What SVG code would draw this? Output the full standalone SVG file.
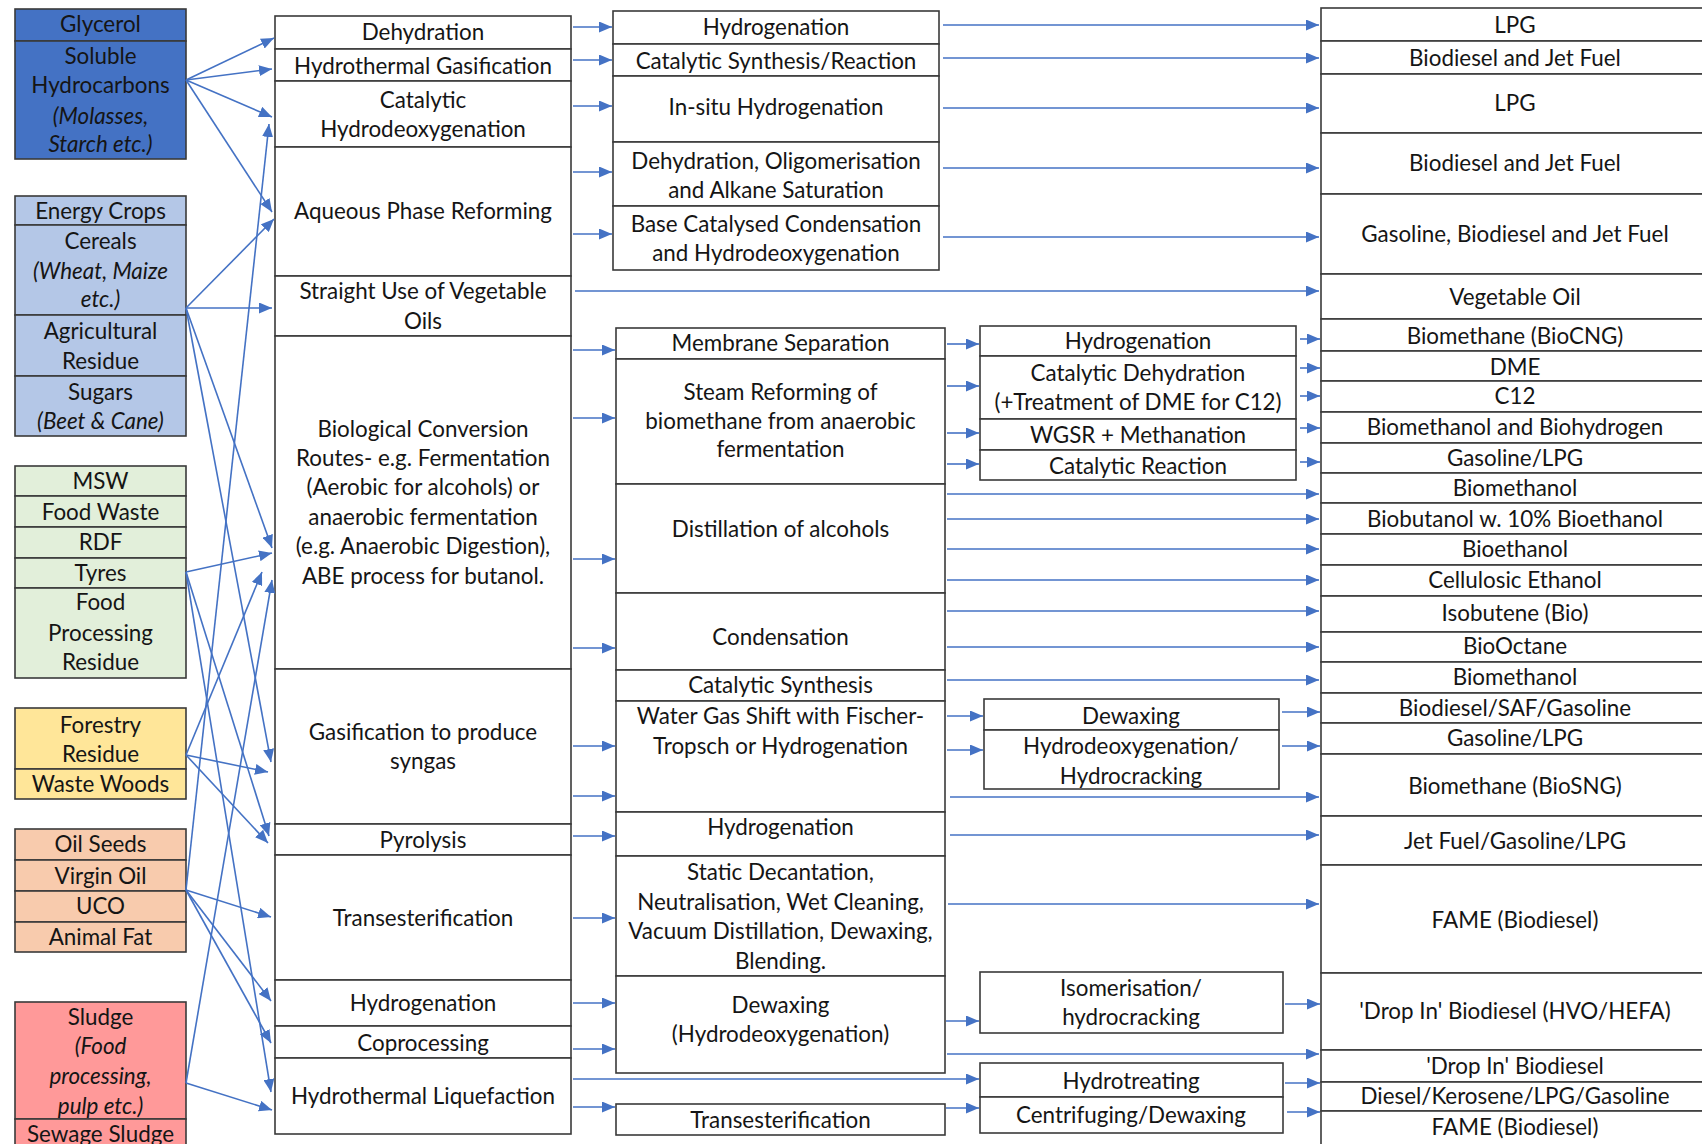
<svg xmlns="http://www.w3.org/2000/svg" width="1702" height="1144" viewBox="0 0 1702 1144">
<defs>
<marker id="ah" markerWidth="13" markerHeight="11" refX="13" refY="5.5" orient="auto" markerUnits="userSpaceOnUse"><path d="M0,0 L13,5.5 L0,11 z" fill="#4472C4"/></marker>
</defs>
<style>
text{font-family:Lato,"Liberation Sans",sans-serif;font-size:22.4px;fill:#151515;text-anchor:middle}
.it{font-style:italic}
rect{stroke:#3a3a3a;stroke-width:1.6}
.w{fill:#fff}
.db{fill:#4472C4}
.lb{fill:#B4C7E7}
.gr{fill:#E2EFDA}
.ye{fill:#FFE699}
.or{fill:#F8CBAD}
.rd{fill:#FF9999}
#connectors line{stroke:#4472C4;stroke-width:1.6;marker-end:url(#ah)}
</style>
<rect x="0" y="0" width="1702" height="1144" fill="#fff" style="stroke:none"/>

<g id="src-glycerol">
<rect class="db" x="15" y="9" width="171" height="32"/><text x="100.5" y="32">Glycerol</text>
<rect class="db" x="15" y="41" width="171" height="118"/>
<text x="100.5" y="64">Soluble</text><text x="100.5" y="93">Hydrocarbons</text>
<text class="it" x="100.5" y="124">(Molasses,</text><text class="it" x="100.5" y="152">Starch etc.)</text>
</g>
<g id="src-crops">
<rect class="lb" x="15" y="196" width="171" height="29"/><text x="100.5" y="219">Energy Crops</text>
<rect class="lb" x="15" y="225" width="171" height="90"/><text x="100.5" y="249">Cereals</text>
<text class="it" x="100.5" y="279">(Wheat, Maize</text><text class="it" x="100.5" y="307">etc.)</text>
<rect class="lb" x="15" y="315" width="171" height="61"/><text x="100.5" y="339">Agricultural</text><text x="100.5" y="369">Residue</text>
<rect class="lb" x="15" y="376" width="171" height="60"/><text x="100.5" y="400">Sugars</text><text class="it" x="100.5" y="429">(Beet &amp; Cane)</text>
</g>
<g id="src-waste">
<rect class="gr" x="15" y="466" width="171" height="30"/><text x="100.5" y="489">MSW</text>
<rect class="gr" x="15" y="496" width="171" height="31"/><text x="100.5" y="520">Food Waste</text>
<rect class="gr" x="15" y="527" width="171" height="31"/><text x="100.5" y="550">RDF</text>
<rect class="gr" x="15" y="558" width="171" height="30"/><text x="100.5" y="581">Tyres</text>
<rect class="gr" x="15" y="588" width="171" height="90"/><text x="100.5" y="610">Food</text><text x="100.5" y="641">Processing</text><text x="100.5" y="670">Residue</text>
</g>
<g id="src-wood">
<rect class="ye" x="15" y="708" width="171" height="61"/><text x="100.5" y="733">Forestry</text><text x="100.5" y="762">Residue</text>
<rect class="ye" x="15" y="769" width="171" height="30"/><text x="100.5" y="792">Waste Woods</text>
</g>
<g id="src-oils">
<rect class="or" x="15" y="829" width="171" height="31"/><text x="100.5" y="852">Oil Seeds</text>
<rect class="or" x="15" y="860" width="171" height="31"/><text x="100.5" y="884">Virgin Oil</text>
<rect class="or" x="15" y="891" width="171" height="31"/><text x="100.5" y="914">UCO</text>
<rect class="or" x="15" y="922" width="171" height="30"/><text x="100.5" y="945">Animal Fat</text>
</g>
<g id="src-sludge">
<rect class="rd" x="15" y="1002" width="171" height="117"/><text x="100.5" y="1025">Sludge</text>
<text class="it" x="100.5" y="1054">(Food</text><text class="it" x="100.5" y="1084">processing,</text><text class="it" x="100.5" y="1114">pulp etc.)</text>
<rect class="rd" x="15" y="1119" width="171" height="40"/><text x="100.5" y="1142">Sewage Sludge</text>
</g>

<g id="conv1">
<rect class="w" x="275" y="16" width="296" height="33"/><text x="423" y="40">Dehydration</text>
<rect class="w" x="275" y="49" width="296" height="32"/><text x="423" y="74">Hydrothermal Gasification</text>
<rect class="w" x="275" y="81" width="296" height="66"/><text x="423" y="108">Catalytic</text><text x="423" y="137">Hydrodeoxygenation</text>
<rect class="w" x="275" y="147" width="296" height="129"/><text x="423" y="219">Aqueous Phase Reforming</text>
<rect class="w" x="275" y="276" width="296" height="60"/><text x="423" y="299">Straight Use of Vegetable</text><text x="423" y="329">Oils</text>
<rect class="w" x="275" y="336" width="296" height="333"/>
<text x="423" y="437">Biological Conversion</text><text x="423" y="466">Routes- e.g. Fermentation</text><text x="423" y="495">(Aerobic for alcohols) or</text><text x="423" y="525">anaerobic fermentation</text><text x="423" y="554">(e.g. Anaerobic Digestion),</text><text x="423" y="584">ABE process for butanol.</text>
<rect class="w" x="275" y="669" width="296" height="155"/><text x="423" y="740">Gasification to produce</text><text x="423" y="769">syngas</text>
<rect class="w" x="275" y="824" width="296" height="31"/><text x="423" y="848">Pyrolysis</text>
<rect class="w" x="275" y="855" width="296" height="125"/><text x="423" y="926">Transesterification</text>
<rect class="w" x="275" y="980" width="296" height="46"/><text x="423" y="1011">Hydrogenation</text>
<rect class="w" x="275" y="1026" width="296" height="32"/><text x="423" y="1051">Coprocessing</text>
<rect class="w" x="275" y="1058" width="296" height="76"/><text x="423" y="1104">Hydrothermal Liquefaction</text>
</g>

<g id="conv2-upper">
<rect class="w" x="613" y="11" width="326" height="33"/><text x="776" y="35">Hydrogenation</text>
<rect class="w" x="613" y="44" width="326" height="32"/><text x="776" y="69">Catalytic Synthesis/Reaction</text>
<rect class="w" x="613" y="76" width="326" height="66"/><text x="776" y="115">In-situ Hydrogenation</text>
<rect class="w" x="613" y="142" width="326" height="64"/><text x="776" y="169">Dehydration, Oligomerisation</text><text x="776" y="198">and Alkane Saturation</text>
<rect class="w" x="613" y="206" width="326" height="64"/><text x="776" y="232">Base Catalysed Condensation</text><text x="776" y="261">and Hydrodeoxygenation</text>
</g>

<g id="conv2-lower">
<rect class="w" x="616" y="328" width="329" height="31"/><text x="780.5" y="351">Membrane Separation</text>
<rect class="w" x="616" y="359" width="329" height="125"/><text x="780.5" y="400">Steam Reforming of</text><text x="780.5" y="429">biomethane from anaerobic</text><text x="780.5" y="457">fermentation</text>
<rect class="w" x="616" y="484" width="329" height="109"/><text x="780.5" y="537">Distillation of alcohols</text>
<rect class="w" x="616" y="593" width="329" height="77"/><text x="780.5" y="645">Condensation</text>
<rect class="w" x="616" y="670" width="329" height="31"/><text x="780.5" y="693">Catalytic Synthesis</text>
<rect class="w" x="616" y="701" width="329" height="111"/><text x="780.5" y="724">Water Gas Shift with Fischer-</text><text x="780.5" y="754">Tropsch or Hydrogenation</text>
<rect class="w" x="616" y="812" width="329" height="44"/><text x="780.5" y="835">Hydrogenation</text>
<rect class="w" x="616" y="856" width="329" height="120"/><text x="780.5" y="880">Static Decantation,</text><text x="780.5" y="910">Neutralisation, Wet Cleaning,</text><text x="780.5" y="939">Vacuum Distillation, Dewaxing,</text><text x="780.5" y="969">Blending.</text>
<rect class="w" x="616" y="976" width="329" height="97"/><text x="780.5" y="1013">Dewaxing</text><text x="780.5" y="1042">(Hydrodeoxygenation)</text>
<rect class="w" x="616" y="1104" width="329" height="31"/><text x="780.5" y="1128">Transesterification</text>
</g>

<g id="conv3">
<rect class="w" x="980" y="326" width="316" height="30"/><text x="1138" y="349">Hydrogenation</text>
<rect class="w" x="980" y="356" width="316" height="63"/><text x="1138" y="381">Catalytic Dehydration</text><text x="1138" y="410">(+Treatment of DME for C12)</text>
<rect class="w" x="980" y="419" width="316" height="31"/><text x="1138" y="443">WGSR + Methanation</text>
<rect class="w" x="980" y="450" width="316" height="30"/><text x="1138" y="474">Catalytic Reaction</text>
<rect class="w" x="984" y="699" width="295" height="31"/><text x="1131" y="724">Dewaxing</text>
<rect class="w" x="984" y="730" width="295" height="59"/><text x="1131" y="754">Hydrodeoxygenation/</text><text x="1131" y="784">Hydrocracking</text>
<rect class="w" x="980" y="972" width="303" height="61"/><text x="1131" y="996">Isomerisation/</text><text x="1131" y="1025">hydrocracking</text>
<rect class="w" x="980" y="1063" width="303" height="34"/><text x="1131" y="1089">Hydrotreating</text>
<rect class="w" x="980" y="1097" width="303" height="36"/><text x="1131" y="1123">Centrifuging/Dewaxing</text>
</g>

<g id="products">
<rect class="w" x="1321" y="8" width="400" height="33"/><text x="1515" y="33">LPG</text>
<rect class="w" x="1321" y="41" width="400" height="33"/><text x="1515" y="66">Biodiesel and Jet Fuel</text>
<rect class="w" x="1321" y="74" width="400" height="59"/><text x="1515" y="111">LPG</text>
<rect class="w" x="1321" y="133" width="400" height="61"/><text x="1515" y="171">Biodiesel and Jet Fuel</text>
<rect class="w" x="1321" y="194" width="400" height="80"/><text x="1515" y="242">Gasoline, Biodiesel and Jet Fuel</text>
<rect class="w" x="1321" y="274" width="400" height="45"/><text x="1515" y="305">Vegetable Oil</text>
<rect class="w" x="1321" y="319" width="400" height="32"/><text x="1515" y="344">Biomethane (BioCNG)</text>
<rect class="w" x="1321" y="351" width="400" height="30"/><text x="1515" y="375">DME</text>
<rect class="w" x="1321" y="381" width="400" height="31"/><text x="1515" y="404">C12</text>
<rect class="w" x="1321" y="412" width="400" height="31"/><text x="1515" y="435">Biomethanol and Biohydrogen</text>
<rect class="w" x="1321" y="443" width="400" height="30"/><text x="1515" y="466">Gasoline/LPG</text>
<rect class="w" x="1321" y="473" width="400" height="30"/><text x="1515" y="496">Biomethanol</text>
<rect class="w" x="1321" y="503" width="400" height="31"/><text x="1515" y="527">Biobutanol w. 10% Bioethanol</text>
<rect class="w" x="1321" y="534" width="400" height="31"/><text x="1515" y="557">Bioethanol</text>
<rect class="w" x="1321" y="565" width="400" height="31"/><text x="1515" y="588">Cellulosic Ethanol</text>
<rect class="w" x="1321" y="596" width="400" height="36"/><text x="1515" y="621">Isobutene (Bio)</text>
<rect class="w" x="1321" y="632" width="400" height="30"/><text x="1515" y="654">BioOctane</text>
<rect class="w" x="1321" y="662" width="400" height="31"/><text x="1515" y="685">Biomethanol</text>
<rect class="w" x="1321" y="693" width="400" height="30"/><text x="1515" y="716">Biodiesel/SAF/Gasoline</text>
<rect class="w" x="1321" y="723" width="400" height="31"/><text x="1515" y="746">Gasoline/LPG</text>
<rect class="w" x="1321" y="754" width="400" height="62"/><text x="1515" y="794">Biomethane (BioSNG)</text>
<rect class="w" x="1321" y="816" width="400" height="49"/><text x="1515" y="849">Jet Fuel/Gasoline/LPG</text>
<rect class="w" x="1321" y="865" width="400" height="108"/><text x="1515" y="928">FAME (Biodiesel)</text>
<rect class="w" x="1321" y="973" width="400" height="77"/><text x="1515" y="1019">'Drop In' Biodiesel (HVO/HEFA)</text>
<rect class="w" x="1321" y="1050" width="400" height="32"/><text x="1515" y="1074">'Drop In' Biodiesel</text>
<rect class="w" x="1321" y="1082" width="400" height="29"/><text x="1515" y="1104">Diesel/Kerosene/LPG/Gasoline</text>
<rect class="w" x="1321" y="1111" width="400" height="50"/><text x="1515" y="1135">FAME (Biodiesel)</text>
</g>

<g id="connectors">
<line x1="186" y1="80" x2="274" y2="38"/>
<line x1="186" y1="80" x2="272" y2="69"/>
<line x1="186" y1="80" x2="272" y2="117"/>
<line x1="186" y1="80" x2="272" y2="212"/>
<line x1="186" y1="308" x2="274" y2="219"/>
<line x1="186" y1="308" x2="272" y2="308"/>
<line x1="186" y1="308" x2="272" y2="548"/>
<line x1="186" y1="308" x2="271" y2="762"/>
<line x1="186" y1="572" x2="272" y2="553"/>
<line x1="186" y1="572" x2="269" y2="836"/>
<line x1="186" y1="572" x2="271" y2="1092"/>
<line x1="186" y1="755" x2="262" y2="572"/>
<line x1="186" y1="755" x2="268" y2="772"/>
<line x1="186" y1="755" x2="268" y2="843"/>
<line x1="186" y1="890" x2="269" y2="124"/>
<line x1="186" y1="890" x2="271" y2="917"/>
<line x1="186" y1="890" x2="271" y2="1001"/>
<line x1="186" y1="890" x2="271" y2="1043"/>
<line x1="186" y1="1083" x2="272" y2="580"/>
<line x1="186" y1="1083" x2="272" y2="1110"/>

<line x1="573" y1="27" x2="612" y2="27"/>
<line x1="573" y1="60" x2="612" y2="60"/>
<line x1="573" y1="106" x2="612" y2="106"/>
<line x1="573" y1="172" x2="612" y2="172"/>
<line x1="573" y1="234" x2="612" y2="234"/>
<line x1="575" y1="291" x2="1319" y2="291"/>
<line x1="573" y1="350" x2="615" y2="350"/>
<line x1="573" y1="418" x2="615" y2="418"/>
<line x1="573" y1="559" x2="615" y2="559"/>
<line x1="573" y1="648" x2="615" y2="648"/>
<line x1="573" y1="746" x2="615" y2="746"/>
<line x1="573" y1="796" x2="615" y2="796"/>
<line x1="573" y1="836" x2="615" y2="836"/>
<line x1="573" y1="918" x2="615" y2="918"/>
<line x1="573" y1="1003" x2="615" y2="1003"/>
<line x1="573" y1="1049" x2="615" y2="1049"/>
<line x1="573" y1="1079" x2="979" y2="1079"/>
<line x1="573" y1="1107" x2="615" y2="1107"/>

<line x1="943" y1="25" x2="1319" y2="25"/>
<line x1="943" y1="58" x2="1319" y2="58"/>
<line x1="943" y1="108" x2="1319" y2="108"/>
<line x1="943" y1="168" x2="1319" y2="168"/>
<line x1="943" y1="237" x2="1319" y2="237"/>

<line x1="947" y1="344" x2="979" y2="344"/>
<line x1="947" y1="386" x2="979" y2="386"/>
<line x1="947" y1="433" x2="979" y2="433"/>
<line x1="947" y1="464" x2="979" y2="464"/>
<line x1="1300" y1="339" x2="1320" y2="339"/>
<line x1="1300" y1="368" x2="1320" y2="368"/>
<line x1="1300" y1="396" x2="1320" y2="396"/>
<line x1="1300" y1="428" x2="1320" y2="428"/>
<line x1="1300" y1="462" x2="1320" y2="462"/>

<line x1="947" y1="494" x2="1319" y2="494"/>
<line x1="947" y1="519" x2="1319" y2="519"/>
<line x1="947" y1="549" x2="1319" y2="549"/>
<line x1="947" y1="580" x2="1319" y2="580"/>
<line x1="947" y1="611" x2="1319" y2="611"/>
<line x1="947" y1="647" x2="1319" y2="647"/>
<line x1="947" y1="680" x2="1319" y2="680"/>

<line x1="947" y1="716" x2="983" y2="716"/>
<line x1="947" y1="750" x2="983" y2="750"/>
<line x1="1282" y1="712" x2="1320" y2="712"/>
<line x1="1282" y1="746" x2="1320" y2="746"/>
<line x1="950" y1="797" x2="1319" y2="797"/>
<line x1="950" y1="835" x2="1319" y2="835"/>
<line x1="948" y1="904" x2="1319" y2="904"/>
<line x1="946" y1="1021" x2="979" y2="1021"/>
<line x1="1285" y1="1004" x2="1320" y2="1004"/>
<line x1="947" y1="1054" x2="1319" y2="1054"/>
<line x1="1285" y1="1083" x2="1320" y2="1083"/>
<line x1="946" y1="1108" x2="979" y2="1108"/>
<line x1="1287" y1="1112" x2="1320" y2="1112"/>
</g>
</svg>
